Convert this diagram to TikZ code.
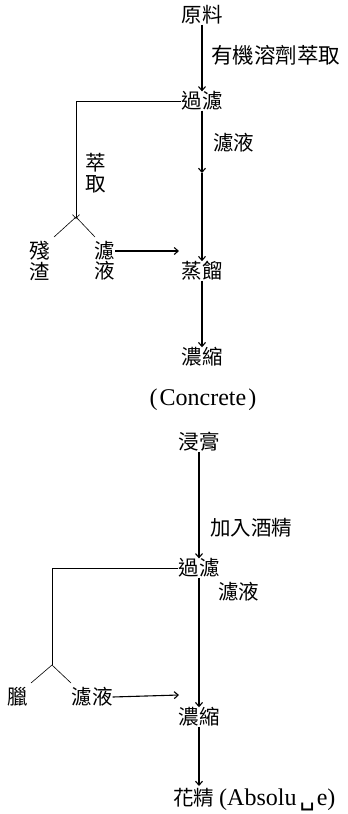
\documentclass[tikz,border=0pt]{standalone}
\usepackage{fontspec}
\setmainfont{Liberation Serif}
\newfontfamily\cjk{Noto Sans CJK TC}
\newfontfamily\djv{DejaVu Sans}
\usetikzlibrary{arrows.meta}
\begin{document}
\begin{tikzpicture}[x=1pt,y=-1pt,
  lbl/.style={font=\cjk\fontsize{20.5}{20.5}\selectfont, inner sep=0pt},
  vlbl/.style={lbl, align=center, font=\cjk\fontsize{20.5}{20.5}\selectfont},
  side/.style={lbl, anchor=west},
  lat/.style={inner sep=0pt, font=\fontsize{24}{24}\selectfont},
  flow/.style={-{Straight Barb[length=4pt,width=7pt]}, line width=1.1pt},
  plain/.style={line width=0.6pt}]
\useasboundingbox (0,0) rectangle (348,814);
% ---- upper part
\node[lbl] (raw) at (202,15) {原料};
\node[side, font=\cjk\fontsize{21.5}{21.5}\selectfont] (solv) at (211,55) {有機溶劑萃取};
\node[lbl] (filt1) at (202,101) {過濾};
\node[side] (liq1) at (213,143) {濾液};
\node[lbl] (dist) at (202,271) {蒸餾};
\node[lbl] (conc1) at (202,357) {濃縮};
\node[lat] (concrete) at (203,400) {(\kern2pt Concrete\kern2pt)};
\node[vlbl] (extr) at (96,173) {萃\\取};
\node[vlbl] (resid) at (40,261) {殘\\渣};
\node[lbl] (brfa) at (105,251) {濾};
\node[lbl] (brfb) at (105,271) {液};
\coordinate (ap1) at (76,219);
\coordinate (bl1) at (54,237);
\coordinate (br1) at (95,237);
\coordinate (m1) at (202,173);
\coordinate (a1e) at (179,251);
\draw[flow] (raw.south) -- (filt1.north);
\draw[flow] (filt1.south) -- (m1);
\draw[flow] (m1) -- (dist.north);
\draw[flow] (dist.south) -- (conc1.north);
\draw[plain, -{Straight Barb[length=4pt,width=7pt]}] (filt1.west) -| (ap1);
\draw[plain] (bl1) -- ([yshift=2pt]ap1) -- (br1);
\draw[flow] (brfa.east) -- (a1e);
% ---- lower part
\node[lbl] (paste) at (199,442) {浸膏};
\node[side] (alc) at (210,528) {加入酒精};
\node[lbl] (filt2) at (199,568) {過濾};
\node[side] (liq2) at (218,592) {濾液};
\node[lbl] (conc2) at (199,717) {濃縮};
\node[anchor=west, inner sep=0pt] (abs) at (173,800)
  {{\cjk\fontsize{20.5}{20.5}\selectfont 花精}\hspace{5pt}{\fontsize{24}{24}\selectfont (Absolu\hspace{3pt}{\djv\fontsize{24}{24}\selectfont ␣}\hspace{2pt}e)}};
\node[lbl] (wax) at (18,697) {臘};
\node[lbl] (brf2) at (92,697) {濾液};
\coordinate (ap2) at (52,665);
\coordinate (bl2) at (31,683);
\coordinate (br2) at (71,683);
\coordinate (a2e) at (179,695);
\coordinate (fin) at (199,786);
\draw[flow] (paste.south) -- (filt2.north);
\draw[flow] (filt2.south) -- (conc2.north);
\draw[flow] (conc2.south) -- (fin);
\draw[plain] (filt2.west) -| (ap2);
\draw[plain] (bl2) -- (ap2) -- (br2);
\draw[flow] (brf2.east) -- (a2e);
\end{tikzpicture}
\end{document}
